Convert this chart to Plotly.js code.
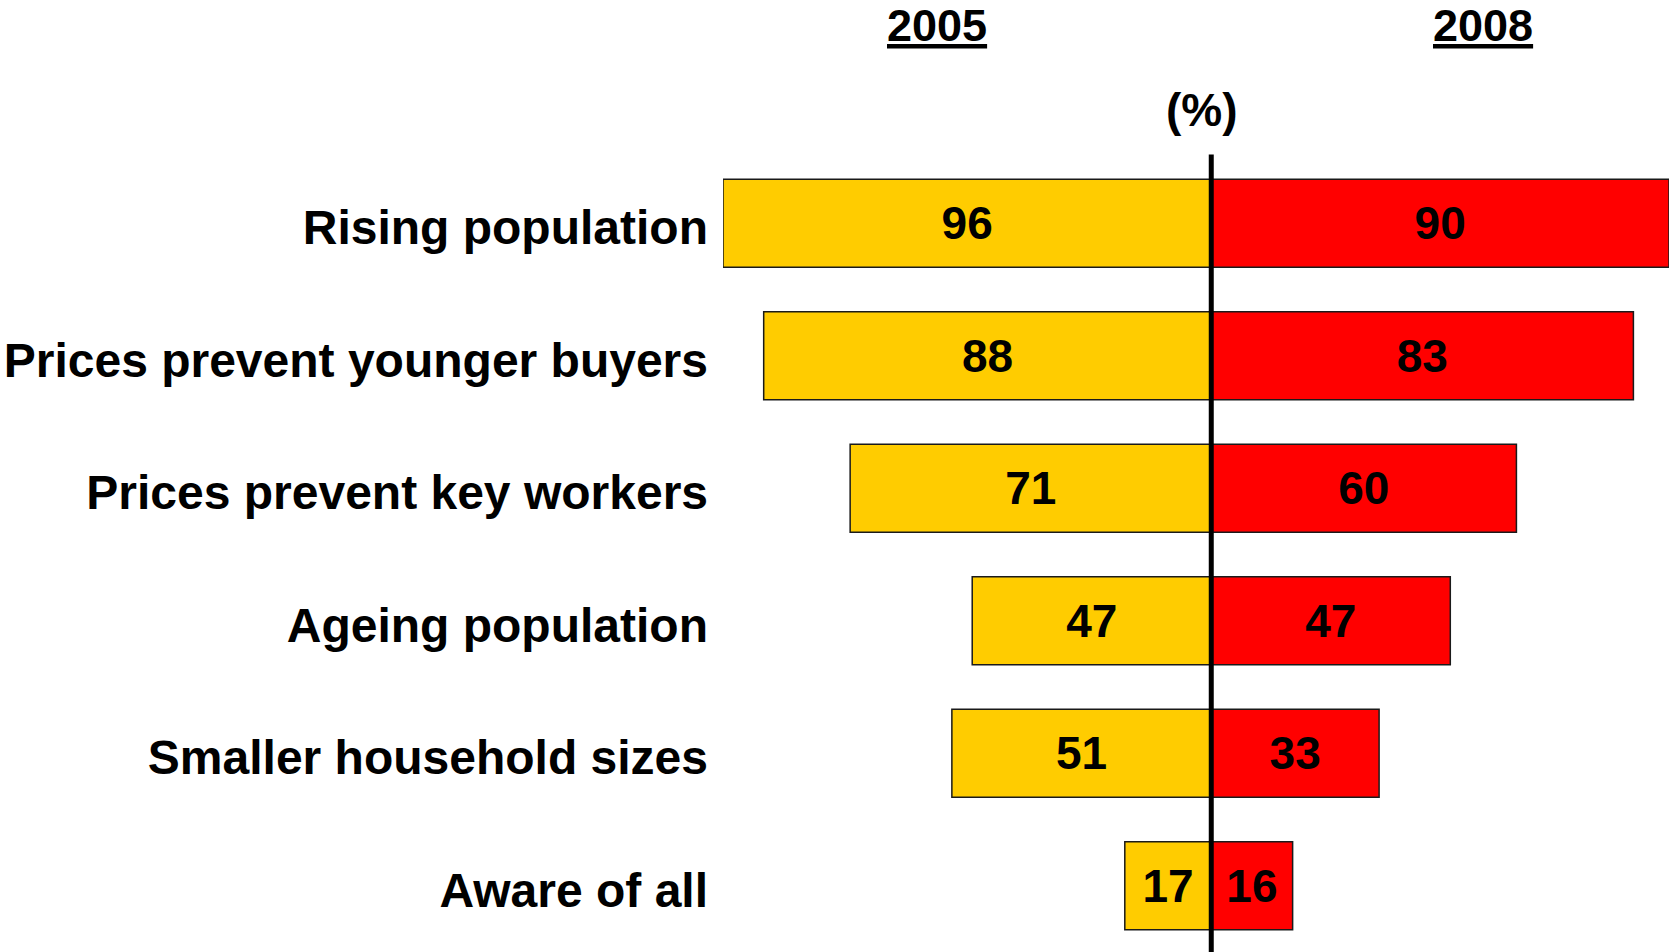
<!DOCTYPE html>
<html>
<head>
<meta charset="utf-8">
<script src="https://cdn.plot.ly/plotly-3.0.1.min.js"></script>
<style>
  html, body { margin: 0; padding: 0; background: #ffffff; }
  #chart { width: 1670px; height: 952px; }
</style>
</head>
<body>
<div id="chart"></div>
<script>
// ---- data ----
const categories = [
  "Rising population",
  "Prices prevent younger buyers",
  "Prices prevent key workers",
  "Ageing population",
  "Smaller household sizes",
  "Aware of all"
];
const values2005 = [96, 88, 71, 47, 51, 17];
const values2008 = [90, 83, 60, 47, 33, 16];
const seriesNames = ["2005", "2008"];
const unitLabel = "(%)";

// ---- styling ----
const FONT = "Liberation Sans, Arial, Helvetica, sans-serif";
const yellow = "#FFCC00";
const red = "#FF0000";

const commonBar = {
  type: "bar",
  orientation: "h",
  y: categories,
  width: 0.664,
  textposition: "inside",
  insidetextanchor: "middle",
  textangle: 0,
  constraintext: "none",
  textfont: { family: FONT, size: 46, color: "#000000", weight: "bold" },
  hoverinfo: "skip",
  cliponaxis: false
};

const trace2005 = Object.assign({}, commonBar, {
  name: seriesNames[0],
  x: values2005.map(v => -v),
  text: values2005.map(String),
  marker: { color: yellow, line: { color: "#1a1a1a", width: 1.5 } }
});

const trace2008 = Object.assign({}, commonBar, {
  name: seriesNames[1],
  x: values2008,
  text: values2008.map(String),
  marker: { color: red, line: { color: "#1a1a1a", width: 1.5 } }
});

const xMin = -Math.max(...values2005);
const xMax = Math.max(...values2008);

const layout = {
  width: 1670,
  height: 952,
  margin: { l: 723, r: 1, t: 157, b: 0, pad: 0 },
  paper_bgcolor: "#ffffff",
  plot_bgcolor: "#ffffff",
  showlegend: false,
  barmode: "relative",
  xaxis: {
    range: [xMin, xMax],
    showgrid: false,
    zeroline: false,
    showline: false,
    showticklabels: false,
    ticks: "",
    fixedrange: true
  },
  yaxis: {
    type: "category",
    autorange: "reversed",
    showgrid: false,
    zeroline: false,
    showline: false,
    ticks: "",
    ticklabelstandoff: 14,
    ticklabelshift: -4,
    tickfont: { family: FONT, size: 48, color: "#000000", weight: "bold" },
    fixedrange: true
  },
  shapes: [{
    type: "line",
    xref: "x", yref: "paper",
    x0: 0, x1: 0, y0: 0, y1: 1.003,
    layer: "above",
    line: { color: "#000000", width: 5 }
  }],
  annotations: [
    {
      text: "<u>" + seriesNames[0] + "</u>",
      xref: "x", yref: "paper",
      x: -54, y: 1.1655,
      xanchor: "center", yanchor: "middle",
      showarrow: false,
      font: { family: FONT, size: 45, color: "#000000", weight: "bold" }
    },
    {
      text: "<u>" + seriesNames[1] + "</u>",
      xref: "x", yref: "paper",
      x: 53.5, y: 1.1655,
      xanchor: "center", yanchor: "middle",
      showarrow: false,
      font: { family: FONT, size: 45, color: "#000000", weight: "bold" }
    },
    {
      text: unitLabel,
      xref: "x", yref: "paper",
      x: 0, xshift: -9, y: 1.0585,
      xanchor: "center", yanchor: "middle",
      showarrow: false,
      font: { family: FONT, size: 46, color: "#000000", weight: "bold" }
    }
  ]
};

Plotly.newPlot("chart", [trace2005, trace2008], layout, { displayModeBar: false, staticPlot: true });
</script>
</body>
</html>
